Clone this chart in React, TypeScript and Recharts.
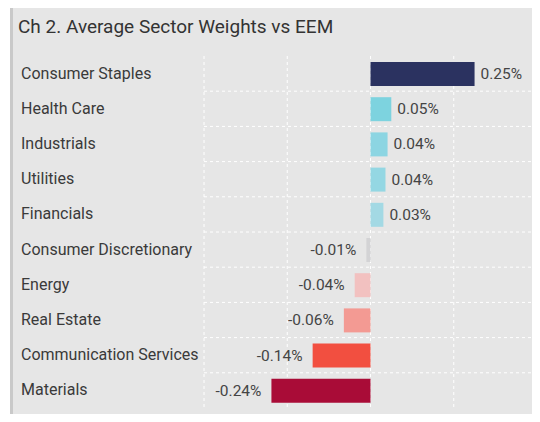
import React from "react";
import { BarChart, Bar, XAxis, YAxis, CartesianGrid, Cell, LabelList } from "recharts";

const categories = [
  "Consumer Staples",
  "Health Care",
  "Industrials",
  "Utilities",
  "Financials",
  "Consumer Discretionary",
  "Energy",
  "Real Estate",
  "Communication Services",
  "Materials",
];
const weights = [0.25, 0.05, 0.041, 0.036, 0.031, -0.01, -0.038, -0.064, -0.139, -0.238];
const barColors = [
  "#2b3260",
  "#7dd3df",
  "#8cd5e2",
  "#94d7e3",
  "#a3d9e4",
  "#d3d3d5",
  "#f2c1c0",
  "#f39a93",
  "#f24f40",
  "#a90c37",
];
const xTicks = [-0.4, -0.2, 0, 0.2, 0.4];
const title = "Ch 2. Average Sector Weights vs EEM";

const data = categories.map((name, i) => ({ name, value: weights[i], color: barColors[i] }));

const FONT = "Roboto, 'Noto Sans', sans-serif";

const CategoryTick = (props: any) => {
  const { y, payload } = props;
  return (
    <text x={21} y={y} dy={5} textAnchor="start" fontSize={16} fill="#3a3a3a" fontFamily={FONT}>
      {payload.value}
    </text>
  );
};

const ValueLabel = (props: any) => {
  const { x, y, width, height, value } = props;
  const neg = value < 0;
  const end = x + width;
  const lx = neg ? Math.min(x, end) - 10 : Math.max(x, end) + 6;
  return (
    <text
      x={lx}
      y={y + height / 2}
      dy={5}
      textAnchor={neg ? "end" : "start"}
      fontSize={15.5}
      fill="#444"
      fontFamily={FONT}
    >
      {value.toFixed(2) + "%"}
    </text>
  );
};

export default function App() {
  return (
    <div style={{ position: "relative", width: 540, height: 422, margin: -8, background: "#fff", overflow: "hidden" }}>
      <div
        style={{
          position: "absolute",
          left: 10,
          top: 4,
          width: 560,
          height: 440,
          background: "#e6e6e6",
          borderLeft: "3px solid #c9c9c9",
          borderTop: "3px solid #c9c9c9",
          boxSizing: "border-box",
        }}
      />
      <div
        style={{
          position: "absolute",
          left: 18,
          top: 15,
          fontFamily: FONT,
          fontSize: 19,
          color: "#333",
          whiteSpace: "nowrap",
        }}
      >
        {title}
      </div>
      <div style={{ position: "absolute", left: 0, top: 0 }}>
        <BarChart
          width={540}
          height={422}
          data={data}
          layout="vertical"
          margin={{ top: 56, right: 3, bottom: 14, left: 0 }}
          barSize={24}
        >
          <CartesianGrid
            stroke="#ffffff"
            strokeDasharray="3 3"
            vertical={true}
            horizontal={true}
            horizontalCoordinatesGenerator={({ offset }: any) => {
              const step = offset.height / categories.length;
              return categories.slice(1).map((_, i) => offset.top + step * (i + 1));
            }}
          />
          <XAxis type="number" domain={[-0.4, 0.4]} ticks={xTicks} hide />
          <YAxis
            type="category"
            dataKey="name"
            width={204}
            axisLine={false}
            tickLine={false}
            tick={<CategoryTick />}
            interval={0}
          />
          <Bar dataKey="value" isAnimationActive={false}>
            {data.map((d, i) => (
              <Cell key={i} fill={d.color} />
            ))}
            <LabelList dataKey="value" content={<ValueLabel />} />
          </Bar>
        </BarChart>
      </div>
    </div>
  );
}
